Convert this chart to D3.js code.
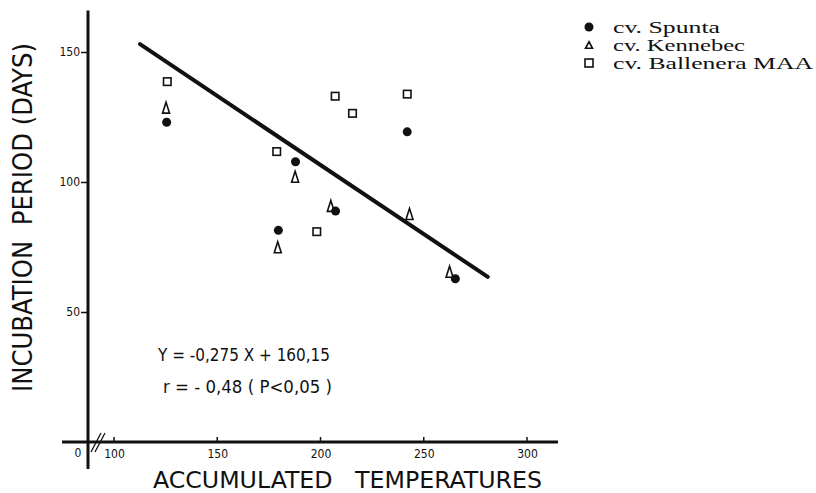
<!DOCTYPE html>
<html>
<head>
<meta charset="utf-8">
<script src="https://cdn.jsdelivr.net/npm/d3@7"></script>
<style>
  body { margin: 0; background: #fff; }
  svg { display: block; }
  .lbl { font-family: "DejaVu Sans Condensed", "DejaVu Sans", sans-serif; fill: #111; }
  .leg { font-family: "Liberation Serif", "DejaVu Serif", serif; fill: #111; }
</style>
</head>
<body>
<svg id="svg1" width="816" height="493"></svg>
<script>
// cultivars
var series = ["cv. Spunta", "cv. Kennebec", "cv. Ballenera MAA"];
// accumulated temperatures (x) / incubation days (y)
var spuntaX = [125.5, 179.6, 187.9, 207.3, 242.0, 265.3];
var spuntaY = [123.0, 81.4, 107.8, 88.8, 119.3, 62.8];
var kennebecX = [125.2, 179.3, 187.7, 205.0, 243.1, 262.5];
var kennebecY = [128.6, 74.9, 102.0, 90.8, 87.7, 65.5];
var ballX = [125.8, 178.8, 198.2, 207.1, 215.5, 242.0];
var ballY = [138.6, 111.7, 80.9, 133.0, 126.4, 133.8];
// regression line as drawn
var lineX = [112.6, 281];
var lineY = [153, 63.5];
var xTicks = [100, 150, 200, 250, 300];
var yTicks = [50, 100, 150];
var eq1 = "Y = -0,275 X + 160,15";
var eq2 = "r = - 0,48 ( P<0,05 )";

var svg = d3.select("#svg1");
var x = d3.scaleLinear().domain([100, 300]).range([114, 527]);
var y = d3.scaleLinear().domain([0, 150]).range([442, 52]);
var x0 = 88; // y axis position (value 0, left of the break)

// axis lines
svg.append("line").attr("x1", x0).attr("x2", x0).attr("y1", y(166)).attr("y2", y(0) + 27)
  .attr("stroke", "#111").attr("stroke-width", 3);
svg.append("line").attr("x1", x0 - 26).attr("x2", x(315)).attr("y1", y(0)).attr("y2", y(0))
  .attr("stroke", "#111").attr("stroke-width", 3);

// y ticks
var yAxis = svg.append("g").attr("transform", "translate(" + x0 + ",0)")
  .call(d3.axisLeft(y).tickValues(yTicks).tickSize(7).tickPadding(1));
yAxis.select(".domain").remove();
yAxis.selectAll("line").attr("stroke", "#111").attr("stroke-width", 1.5);
yAxis.selectAll("text").attr("class", "lbl").attr("font-size", 12);

// x ticks
var xAxis = svg.append("g").attr("transform", "translate(0," + y(0) + ")")
  .call(d3.axisBottom(x).tickValues(xTicks).tickSize(0).tickPadding(5));
xAxis.select(".domain").remove();
xAxis.selectAll("text").attr("class", "lbl").attr("font-size", 12).attr("dy", "0.9em");
svg.append("g").selectAll("line").data(xTicks).join("line")
  .attr("x1", function(d){ return x(d); }).attr("x2", function(d){ return x(d); })
  .attr("y1", y(0)).attr("y2", y(0) - 5)
  .attr("stroke", "#111").attr("stroke-width", 1.5);

// zero label and axis break
svg.append("text").attr("class", "lbl").attr("font-size", 12)
  .attr("x", x0 - 10).attr("y", y(0) + 15).attr("text-anchor", "middle").text("0");
[0, 4].forEach(function(o){
  svg.append("line").attr("x1", x0 + 3 + o).attr("y1", y(0) + 10)
    .attr("x2", x0 + 13 + o).attr("y2", y(0) - 9)
    .attr("stroke", "#111").attr("stroke-width", 1.3);
});

// axis titles
svg.append("text").attr("class", "lbl").attr("font-size", 23)
  .attr("x", 153).attr("y", 488).attr("textLength", 389).attr("lengthAdjust", "spacingAndGlyphs")
  .style("white-space", "pre")
  .text("ACCUMULATED   TEMPERATURES");
svg.append("text").attr("class", "lbl").attr("font-size", 26)
  .attr("transform", "translate(32,392) rotate(-90)")
  .attr("textLength", 349).attr("lengthAdjust", "spacingAndGlyphs")
  .style("white-space", "pre")
  .text("INCUBATION  PERIOD (DAYS)");

// regression line
svg.append("line")
  .attr("x1", x(lineX[0])).attr("y1", y(lineY[0]))
  .attr("x2", x(lineX[1])).attr("y2", y(lineY[1]))
  .attr("stroke", "#111").attr("stroke-width", 4).attr("stroke-linecap", "round");

// equation text
svg.append("text").attr("class", "lbl").attr("font-size", 17)
  .attr("x", 158).attr("y", 361).attr("textLength", 172).attr("lengthAdjust", "spacingAndGlyphs")
  .style("white-space", "pre").text(eq1);
svg.append("text").attr("class", "lbl").attr("font-size", 17)
  .attr("x", 163).attr("y", 393).attr("textLength", 169).attr("lengthAdjust", "spacingAndGlyphs")
  .style("white-space", "pre").text(eq2);

// markers
function circle(g, cx, cy, r){
  g.append("circle").attr("cx", cx).attr("cy", cy).attr("r", r).attr("fill", "#111");
}
function tri(g, cx, cy, w, h){
  g.append("path")
    .attr("d", "M" + cx + "," + (cy - h/2) + "L" + (cx + w/2) + "," + (cy + h/2) + "L" + (cx - w/2) + "," + (cy + h/2) + "Z")
    .attr("fill", "#fff").attr("stroke", "#111").attr("stroke-width", 1.6);
}
function square(g, cx, cy, s){
  g.append("rect").attr("x", cx - s/2).attr("y", cy - s/2).attr("width", s).attr("height", s)
    .attr("fill", "#fff").attr("stroke", "#111").attr("stroke-width", 1.6);
}
var pts = svg.append("g");
ballX.forEach(function(d, i){ square(pts, x(d), y(ballY[i]), 7.5); });
kennebecX.forEach(function(d, i){ tri(pts, x(d), y(kennebecY[i]), 7, 11); });
spuntaX.forEach(function(d, i){ circle(pts, x(d), y(spuntaY[i]), 4.5); });

// legend
var legW = [107, 132, 200];
var leg = svg.append("g").attr("transform", "translate(589,27)");
series.forEach(function(s, i){
  var cy = i * 18;
  if (i === 0) circle(leg, 0, cy, 4.5);
  if (i === 1) tri(leg, 0, cy, 7, 6.5);
  if (i === 2) square(leg, 0, cy, 8);
  leg.append("text").attr("class", "leg").attr("font-size", 16)
    .attr("x", 24).attr("y", cy + 6)
    .attr("textLength", legW[i]).attr("lengthAdjust", "spacingAndGlyphs")
    .text(s);
});
</script>
</body>
</html>
